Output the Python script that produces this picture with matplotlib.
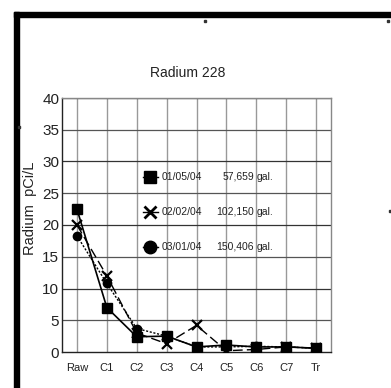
import matplotlib
matplotlib.use("Agg")
import matplotlib.pyplot as plt
from matplotlib.lines import Line2D
from matplotlib.patches import Rectangle

plt.rcParams['font.family'] = ['Liberation Sans', 'DejaVu Sans']

categories = ["Raw", "C1", "C2", "C3", "C4", "C5", "C6", "C7", "Tr"]
s1 = [22.5, 7.0, 2.4, 2.5, 0.8, 1.1, 0.8, 0.8, 0.6]
s2 = [20.0, 12.0, 3.0, 1.3, 4.2, 0.2, 0.4, 0.8, 0.6]
s3 = [18.3, 10.8, 3.7, 2.5, 0.8, 0.8, 0.9, 0.8, 0.6]
dates = ["01/05/04", "02/02/04", "03/01/04"]
volumes = ["57,659 gal.", "102,150 gal.", "150,406 gal."]
yticks = [0, 5, 10, 15, 20, 25, 30, 35, 40]

W, H = 391, 388
fig = plt.figure(figsize=(W / 100, H / 100), dpi=100)
fig.patch.set_facecolor("white")

# frame border (top and left thick black)
fig.patches.append(Rectangle((14 / W, 1 - 17 / H), 1 - 14 / W, 5 / H, transform=fig.transFigure,
                             color="black", zorder=10))
fig.patches.append(Rectangle((14 / W, 0), 5 / W, 1 - 12 / H, transform=fig.transFigure,
                             color="black", zorder=10))
for (x, y, w, h) in [(204, 20, 2, 2), (387, 20, 2, 2), (18, 126, 2, 2), (389, 210, 2, 2)]:
    fig.patches.append(Rectangle((x / W, 1 - (y + h) / H), w / W, h / H, transform=fig.transFigure,
                                 color="#333333", zorder=10))

left, right, top, bottom = 62, 331, 98, 352
ax = fig.add_axes([left / W, 1 - bottom / H, (right - left) / W, (bottom - top) / H])
x = list(range(len(categories)))

ax.plot(x, s1, color="black", lw=1.2, ls="-", marker="s", ms=7, zorder=5)
ax.plot(x, s2, color="black", lw=1.0, ls=(0, (7, 3)), marker="x", ms=7, mew=1.6, zorder=4)
ax.plot(x, s3, color="black", lw=1.0, ls=(0, (1.5, 1.2)), marker="o", ms=6, zorder=4)

ax.set_xlim(-0.5, 8.5)
ax.set_ylim(0, 40)
ax.set_yticks(yticks)
ax.set_xticks(x)
ax.set_xticklabels(categories, fontsize=8)
ax.tick_params(axis="y", labelsize=11, length=0, pad=2, colors="#222222")
ax.tick_params(axis="x", length=0, pad=8, colors="#222222")
for i in x:
    ax.axvline(i, color="#999999", lw=1.0, zorder=1)
for v in yticks[1:]:
    ax.axhline(v, color="#555555" if v % 10 else "#333333", lw=0.9, zorder=1)
for sp in ax.spines.values():
    sp.set_color("#888888")
    sp.set_linewidth(1.0)
ax.spines["left"].set_color("#222222")
ax.spines["bottom"].set_color("#222222")
ax.set_ylabel("Radium  pCi/L", fontsize=10.5, color="#222222")
ax.yaxis.set_label_coords((37 - left) / (right - left), (bottom - 208) / (bottom - top))

fig.text(188 / W, 1 - 73 / H, "Radium 228", ha="center", va="center", fontsize=10, color="#222222")

markers = [("s", 9, 1.0), ("x", 8, 2.0), ("o", 9, 1.0)]
ys = [177, 212, 247]
for (m, ms, mew), yy, d, vol in zip(markers, ys, dates, volumes):
    fig.add_artist(Line2D([143 / W, 158 / W], [1 - yy / H, 1 - yy / H], color="black", lw=1.0,
                          transform=fig.transFigure))
    fig.add_artist(Line2D([150 / W], [1 - yy / H], marker=m, ms=ms, mew=mew, color="black",
                          transform=fig.transFigure))
    fig.text(162 / W, 1 - yy / H, d, fontsize=7.5, va="center", ha="left", color="#222222")
    fig.text(254 / W, 1 - yy / H, vol.split()[0], fontsize=7.5, va="center", ha="right", color="#222222")
    fig.text(257 / W, 1 - yy / H, "gal.", fontsize=7.5, va="center", ha="left", color="#222222")

fig.savefig("out.png", dpi=100)
